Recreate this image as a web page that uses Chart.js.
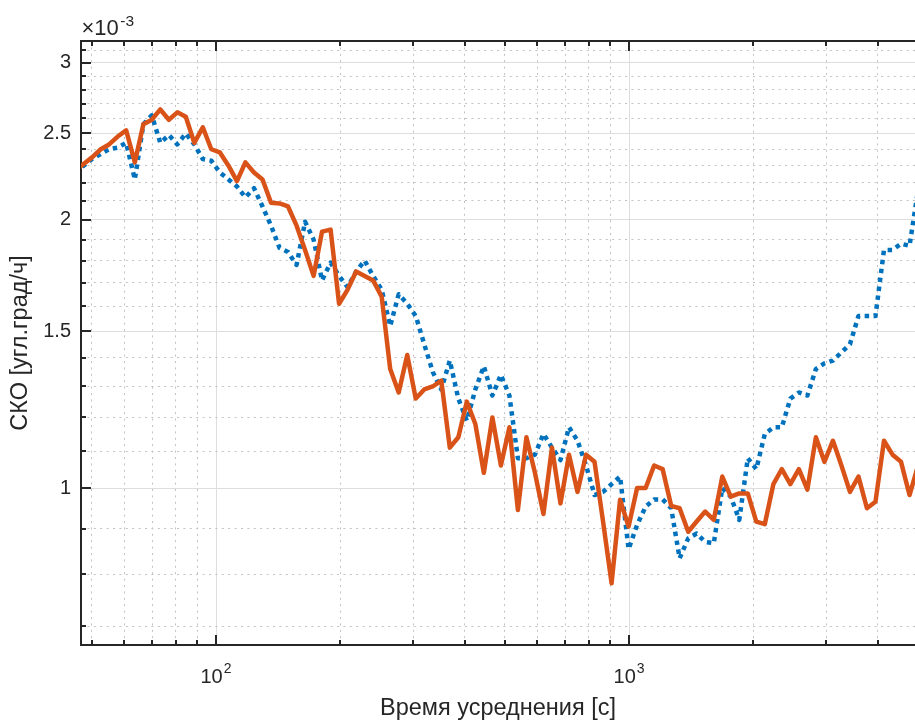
<!DOCTYPE html>
<html>
<head>
<meta charset="utf-8">
<script src="https://cdn.jsdelivr.net/npm/chart.js@4.4.1/dist/chart.umd.min.js"></script>
<style>
  html, body { margin: 0; padding: 0; background: #ffffff; }
  canvas { display: block; }
</style>
</head>
<body>
<canvas id="chart" width="915" height="720"></canvas>
<script>
// Averaging time, s
const tau = [
  45.6, 47.8, 50.1, 52.6, 55.1, 57.8, 60.6, 63.6, 66.7, 69.9,
  73.3, 76.9, 80.6, 84.5, 88.6, 92.9, 97.4, 102.2, 107.2, 112.4,
  117.8, 123.6, 129.6, 135.9, 142.5, 149.4, 156.7, 164.3, 172.3, 180.6,
  189.4, 198.6, 208.3, 218.4, 229.0, 240.1, 251.8, 264.1, 276.9, 290.4,
  304.5, 319.3, 334.8, 351.1, 368.2, 386.1, 404.8, 424.5, 445.1, 466.8,
  489.5, 513.3, 538.2, 564.4, 591.8, 620.6, 650.8, 682.4, 715.6, 750.4,
  786.9, 825.1, 865.2, 907.3, 951.4, 997.6, 1046, 1097, 1150, 1206,
  1265, 1326, 1391, 1458, 1529, 1604, 1682, 1763, 1849, 1939,
  2033, 2132, 2236, 2344, 2458, 2578, 2703, 2834, 2972, 3117,
  3268, 3427, 3594, 3768, 3951, 4143, 4345, 4556, 4777, 5010
];

// Deviation, x1e-3 deg/h (dotted blue curve)
const skoDotted = [
  2.26, 2.30, 2.34, 2.37, 2.40, 2.41, 2.44, 2.22, 2.56, 2.62,
  2.44, 2.49, 2.43, 2.50, 2.43, 2.34, 2.33, 2.26, 2.22, 2.18,
  2.12, 2.17, 2.07, 1.97, 1.86, 1.84, 1.78, 1.99, 1.90, 1.71,
  1.79, 1.73, 1.68, 1.75, 1.80, 1.73, 1.67, 1.52, 1.65, 1.61,
  1.56, 1.45, 1.35, 1.29, 1.39, 1.26, 1.19, 1.29, 1.37, 1.27,
  1.34, 1.27, 1.08, 1.08, 1.09, 1.15, 1.11, 1.075, 1.17, 1.13,
  1.06, 0.982, 0.99, 1.01, 1.03, 0.854, 0.909, 0.953, 0.971, 0.971,
  0.949, 0.834, 0.878, 0.889, 0.870, 0.867, 1.00, 0.978, 0.921, 1.08,
  1.05, 1.15, 1.17, 1.17, 1.26, 1.28, 1.27, 1.36, 1.38, 1.39,
  1.42, 1.45, 1.56, 1.56, 1.56, 1.85, 1.85, 1.88, 1.87, 2.16
];

// Deviation, x1e-3 deg/h (solid orange curve)
const skoSolid = [
  2.27, 2.31, 2.35, 2.40, 2.43, 2.48, 2.52, 2.32, 2.56, 2.59,
  2.66, 2.59, 2.64, 2.61, 2.44, 2.54, 2.40, 2.38, 2.30, 2.21,
  2.32, 2.26, 2.22, 2.09, 2.086, 2.07, 1.97, 1.85, 1.73, 1.94,
  1.95, 1.61, 1.67, 1.75, 1.73, 1.71, 1.64, 1.36, 1.28, 1.41,
  1.26, 1.29, 1.30, 1.32, 1.11, 1.14, 1.25, 1.18, 1.04, 1.20,
  1.06, 1.17, 0.945, 1.14, 1.04, 0.935, 1.11, 0.961, 1.09, 0.99,
  1.09, 1.07, 0.917, 0.782, 0.97, 0.905, 1.00, 1.00, 1.06, 1.05,
  0.955, 0.949, 0.893, 0.917, 0.941, 0.921, 1.03, 0.978, 0.986, 0.986,
  0.917, 0.911, 1.01, 1.05, 1.01, 1.05, 0.996, 1.14, 1.07, 1.13,
  1.06, 0.99, 1.03, 0.949, 0.965, 1.13, 1.09, 1.07, 0.982, 1.06
];

// Axis ticks
const xTickValues = [50, 60, 70, 80, 90, 100, 200, 300, 400, 500, 600, 700, 800, 900, 1000, 2000, 3000, 4000];
const xMajorTicks = [100, 1000];
const xMajorLabels = [['10', '2'], ['10', '3']];
const yTickValues = [0.7, 0.8, 0.9, 1.0, 1.1, 1.2, 1.3, 1.4, 1.5, 1.6, 1.7, 1.8, 1.9, 2.0,
                     2.1, 2.2, 2.3, 2.4, 2.5, 2.6, 2.7, 2.8, 2.9, 3.0, 3.1];
const yMajorTicks = [1, 1.5, 2, 2.5, 3];
const yMajorLabels = ['1', '1.5', '2', '2.5', '3'];
const xRange = [47.11, 4925];
const yRange = [0.6665, 3.1746];

const xTitle = 'Время усреднения [с]';
const yTitle = 'СКО [угл.град/ч]';
const yExponent = ['\u00d710', '-3'];

const FONT = '"Liberation Sans", Arial, Helvetica, sans-serif';
const TEXT = '#262626';
const AXIS = '#262626';
const GRID_MAJOR = '#dedede';
const GRID_MINOR = '#c2c2c2';
const MINOR_DASH = [2, 4.4];

const near = (list, v) => list.findIndex(m => Math.abs(m - v) < 1e-6);

const series = (ys) => tau.map((t, i) => ({ x: t, y: ys[i] }));

// Axes box, inward tick marks and power-of-ten labels
const axesDecor = {
  id: 'axesDecor',
  beforeDatasetsDraw(chart) {
    const { ctx, chartArea: a, scales: { x, y } } = chart;
    ctx.save();
    ctx.strokeStyle = AXIS;
    ctx.lineWidth = 2;
    ctx.lineCap = 'butt';
    ctx.beginPath();
    ctx.moveTo(a.left - 1, a.top);
    ctx.lineTo(a.right, a.top);
    ctx.moveTo(a.left, a.top - 1);
    ctx.lineTo(a.left, a.bottom + 1);
    ctx.moveTo(a.left - 1, a.bottom);
    ctx.lineTo(a.right, a.bottom);
    for (const v of xTickValues) {
      const px = Math.round(x.getPixelForValue(v));
      const len = near(xMajorTicks, v) >= 0 ? 10 : 5;
      ctx.moveTo(px, a.bottom);
      ctx.lineTo(px, a.bottom - len);
      ctx.moveTo(px, a.top);
      ctx.lineTo(px, a.top + len);
    }
    for (const v of yTickValues) {
      const py = Math.round(y.getPixelForValue(v));
      const len = near(yMajorTicks, v) >= 0 ? 10 : 5;
      ctx.moveTo(a.left, py);
      ctx.lineTo(a.left + len, py);
    }
    ctx.stroke();
    ctx.restore();
  },
  afterDraw(chart) {
    const { ctx, chartArea: a, scales: { x } } = chart;
    ctx.save();
    ctx.fillStyle = TEXT;
    ctx.textBaseline = 'alphabetic';
    ctx.textAlign = 'left';
    const big = '20px ' + FONT;
    const small = '14px ' + FONT;
    xMajorTicks.forEach((v, i) => {
      const [base, exp] = xMajorLabels[i];
      ctx.font = big;
      const wb = ctx.measureText(base).width;
      ctx.font = small;
      const we = ctx.measureText(exp).width;
      const x0 = x.getPixelForValue(v) - (wb + we + 1) / 2;
      ctx.font = big;
      ctx.fillText(base, x0, a.bottom + 37.5);
      ctx.font = small;
      ctx.fillText(exp, x0 + wb + 1, a.bottom + 28);
    });
    ctx.font = '22px ' + FONT;
    const wx = ctx.measureText(yExponent[0]).width;
    ctx.fillText(yExponent[0], a.left + 0.5, 35);
    ctx.font = '15.5px ' + FONT;
    ctx.fillText(yExponent[1], a.left + 2 + wx, 25.5);
    ctx.restore();
  }
};

Chart.defaults.font.family = FONT;
Chart.defaults.color = TEXT;

new Chart(document.getElementById('chart'), {
  type: 'line',
  data: {
    datasets: [
      {
        label: 'СКО 1',
        data: series(skoDotted),
        borderColor: '#0072BD',
        borderWidth: 4.5,
        borderDash: [4.5, 4.5],
        borderCapStyle: 'butt',
        borderJoinStyle: 'round',
        pointRadius: 0,
        tension: 0,
        fill: false,
        order: 1
      },
      {
        label: 'СКО 2',
        data: series(skoSolid),
        borderColor: '#D95319',
        borderWidth: 4.5,
        borderCapStyle: 'butt',
        borderJoinStyle: 'round',
        pointRadius: 0,
        tension: 0,
        fill: false,
        order: 0
      }
    ]
  },
  options: {
    responsive: false,
    animation: false,
    devicePixelRatio: 1,
    layout: { padding: { left: 0, right: 0, top: 41, bottom: 0 } },
    plugins: { legend: { display: false }, tooltip: { enabled: false } },
    scales: {
      x: {
        type: 'logarithmic',
        min: xRange[0],
        max: xRange[1],
        afterBuildTicks: (s) => { s.ticks = xTickValues.map(v => ({ value: v })); },
        afterFit: (s) => { s.height = 75; },
        ticks: { display: false, autoSkip: false },
        grid: {
          drawTicks: false,
          lineWidth: 1,
          color: (c) => (c.tick && near(xMajorTicks, c.tick.value) >= 0) ? GRID_MAJOR : GRID_MINOR
        },
        border: {
          display: false,
          dash: (c) => (c.tick && near(xMajorTicks, c.tick.value) < 0) ? MINOR_DASH : []
        },
        title: {
          display: true,
          text: xTitle,
          color: TEXT,
          font: { size: 23.5, lineHeight: 1 },
          padding: { top: 0, bottom: 0 }
        }
      },
      y: {
        type: 'logarithmic',
        min: yRange[0],
        max: yRange[1],
        afterBuildTicks: (s) => { s.ticks = yTickValues.map(v => ({ value: v })); },
        afterFit: (s) => { s.width = 81; },
        ticks: {
          autoSkip: false,
          padding: 10,
          color: TEXT,
          font: { size: 20 },
          callback: (v) => { const k = near(yMajorTicks, v); return k >= 0 ? yMajorLabels[k] : ''; }
        },
        grid: {
          drawTicks: false,
          lineWidth: 1,
          color: (c) => (c.tick && near(yMajorTicks, c.tick.value) >= 0) ? GRID_MAJOR : GRID_MINOR
        },
        border: {
          display: false,
          dash: (c) => (c.tick && near(yMajorTicks, c.tick.value) < 0) ? MINOR_DASH : []
        },
        title: {
          display: true,
          text: yTitle,
          color: TEXT,
          font: { size: 23.5, lineHeight: 1 },
          padding: { top: 8.5, bottom: 0 }
        }
      }
    }
  },
  plugins: [axesDecor]
});
</script>
</body>
</html>
